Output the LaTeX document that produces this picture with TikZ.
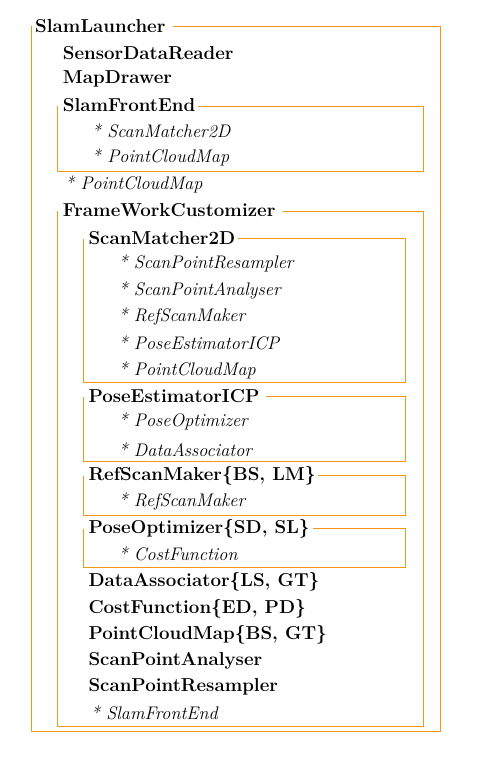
\documentclass[tikz,border=0pt]{standalone}
\usepackage{fontspec}
\setmainfont{Latin Modern Roman}
\definecolor{boxorange}{RGB}{246,150,24}
\tikzset{
  frame/.style={draw=boxorange, line width=1.2pt},
  ttl/.style={anchor=base west, inner sep=0pt, font=\fontsize{18.7}{20}\selectfont\bfseries},
  itm/.style={anchor=base west, inner sep=0pt, font=\fontsize{18.2}{20}\selectfont\itshape},
}
\newcommand\tbox[5]{\draw[frame] (#5,#2) -- (#3,#2) -- (#3,#4) -- (#1,#4) -- (#1,#2);}
\begin{document}
\begin{tikzpicture}[x=1pt,y=-1pt]
\fill[white] (0,0) rectangle (477,759);
\useasboundingbox (0,0) rectangle (477,759);
% outer box
\tbox{31.5}{26.5}{440.5}{731.5}{172.5}
\node[ttl] (slamlauncher) at (35,33) {SlamLauncher};
\node[ttl] (sensor) at (62.7,60) {SensorDataReader};
\node[ttl] (mapdrawer) at (62.7,84) {MapDrawer};
% SlamFrontEnd box
\tbox{57.5}{106.5}{423.5}{171.5}{198.3}
\node[ttl] (slamfrontend) at (62.7,111.7) {SlamFrontEnd};
\node[itm] (sfe1) at (91.7,138) {* ScanMatcher2D};
\node[itm] (sfe2) at (91.7,163) {* PointCloudMap};
\node[itm] (pcm) at (65,190) {* PointCloudMap};
% FrameWorkCustomizer box
\tbox{57.5}{211.5}{423.5}{726.5}{282.7}
\node[ttl] (fwc) at (62.7,217) {FrameWorkCustomizer};
% ScanMatcher2D box
\tbox{83.5}{238.5}{405.5}{382.5}{238.3}
\node[ttl] (sm) at (88.3,244.3) {ScanMatcher2D};
\node[itm] (sm1) at (118.3,268.3) {* ScanPointResampler};
\node[itm] (sm2) at (118.3,295) {* ScanPointAnalyser};
\node[itm] (sm3) at (118.3,321.7) {* RefScanMaker};
\node[itm] (sm4) at (118.3,349) {* PoseEstimatorICP};
\node[itm] (sm5) at (118.3,375.7) {* PointCloudMap};
% PoseEstimatorICP box
\tbox{83.5}{396.5}{405.5}{461.5}{266}
\node[ttl] (pe) at (88.3,402.7) {PoseEstimatorICP};
\node[itm] (pe1) at (118.3,426.7) {* PoseOptimizer};
\node[itm] (pe2) at (118.3,456) {* DataAssociator};
% RefScanMaker box
\tbox{83.5}{475.5}{405.5}{515.5}{318}
\node[ttl] (rsm) at (88.3,480.7) {RefScanMaker\{BS, LM\}};
\node[itm] (rsm1) at (118.3,506.7) {* RefScanMaker};
% PoseOptimizer box
\tbox{83.5}{528.5}{405.5}{567.5}{313}
\node[ttl] (po) at (88.3,533.3) {PoseOptimizer\{SD, SL\}};
\node[itm] (po1) at (118.3,560.7) {* CostFunction};
% remaining
\node[ttl] (da) at (88.3,586) {DataAssociator\{LS, GT\}};
\node[ttl] (cf) at (88.3,613) {CostFunction\{ED, PD\}};
\node[ttl] (pcmbs) at (88.3,639) {PointCloudMap\{BS, GT\}};
\node[ttl] (spa) at (88.3,665) {ScanPointAnalyser};
\node[ttl] (spr) at (88.3,691) {ScanPointResampler};
\node[itm] (sfe) at (90.7,719) {* SlamFrontEnd};
\end{tikzpicture}
\end{document}
